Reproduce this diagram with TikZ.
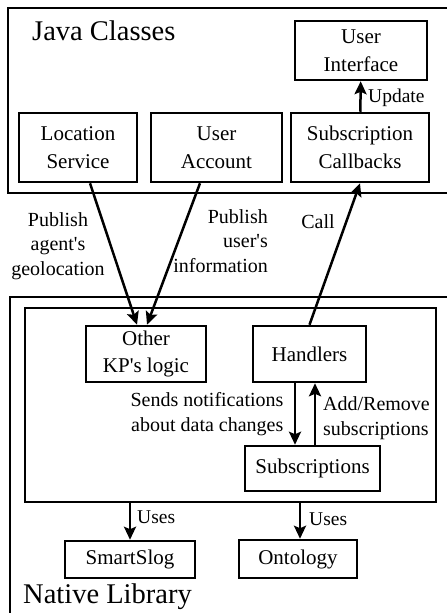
\documentclass[tikz,border=0pt]{standalone}
\usepackage{fontspec}
\setmainfont{Liberation Serif}
\usepackage{tikz}
\usetikzlibrary{arrows.meta}
\tikzset{frame/.style={draw,line width=2.5pt}}
\tikzset{box/.style={frame,align=center,inner sep=0pt,font=\fontsize{21}{27.5}\selectfont}}
\tikzset{lbl/.style={align=center,inner sep=0pt,font=\fontsize{20}{24.5}\selectfont}}
\tikzset{title/.style={inner sep=0pt,anchor=base west,font=\fontsize{28.5}{30}\selectfont}}
\tikzset{arr/.style={line width=2.5pt,-{Stealth[length=13pt,width=12pt,inset=2.5pt]}}}

\begin{document}
\begin{tikzpicture}[x=1pt,y=-1pt]
		\useasboundingbox (0,0) rectangle (447,613);
		\clip (0,0) rectangle (447,613);

		% the two layers
		\draw[frame] (8,8) rectangle (470,193);
		\draw[frame] (10,297) rectangle (470,640);
		\node[title](java) at (32,40){Java Classes};
		\node[title](native) at (23,603){Native Library};

		\node[box,minimum width=118,minimum height=69](loc) at (78,147.5){Location\\Service};
		\node[box,minimum width=131,minimum height=69](acct) at (216.5,147.5){User\\Account};
		\node[box,minimum width=138,minimum height=69](callb) at (360,147.5){Subscription\\Callbacks};
		\node[box,minimum width=132,minimum height=59](ui) at (361,50.5){User\\Interface};

		\node[frame,minimum width=411,minimum height=194,inner sep=0pt](core) at (230.5,405){};
		\node[box,minimum width=120,minimum height=56](other) at (146,354){Other\\KP\textquotesingle s logic};
		\node[box,minimum width=113,minimum height=56](hand) at (309.5,354){Handlers};
		\node[box,minimum width=135,minimum height=45](subs) at (312.5,468.5){Subscriptions};

		\node[box,minimum width=130,minimum height=37](slog) at (130,559.5){SmartSlog};
		\node[box,minimum width=118,minimum height=38](onto) at (298,559){Ontology};

		\node[lbl](pubgeo) at (58,246){Publish\\agent\textquotesingle s\\geolocation};
		\node[lbl,align=right,anchor=east](pubinfo) at (268,241){Publish\\user\textquotesingle s\\information};
		\node[lbl](call) at (318,222){Call};
		\node[lbl,align=right](sends) at (207,414){Sends notifications\\about data changes};
		\node[lbl,align=left,anchor=west](addrm) at (323,418){Add/Remove\\subscriptions};
		\node[lbl,anchor=west,font=\fontsize{19.5}{22}\selectfont](update) at (368,98){Update};
		\node[lbl,anchor=west,font=\fontsize{19.5}{22}\selectfont](uses1) at (137,517){Uses};
		\node[lbl,anchor=west,font=\fontsize{19.5}{22}\selectfont](uses2) at (309,519){Uses};

		\draw[arr] (callb) -- (ui);
		\draw[arr] ([xshift=12pt]loc.south) -- ([xshift=-9pt]other.north);
		\draw[arr] ([xshift=-16.5pt]acct.south) -- ([xshift=1pt]other.north);
		\draw[arr] (hand.north) -- (callb.south);
		\draw[arr] ([xshift=-14.5pt]hand.south) -- ([xshift=-14.5pt]hand.south |- subs.north);
		\draw[arr] ([xshift=2.5pt]subs.north) -- ([xshift=2.5pt]subs.north |- hand.south);
		\draw[arr] (slog |- core.south) -- (slog);
		\draw[arr] ([xshift=2pt]onto.north |- core.south) -- ([xshift=2pt]onto.north);
	\end{tikzpicture}
\end{document}
